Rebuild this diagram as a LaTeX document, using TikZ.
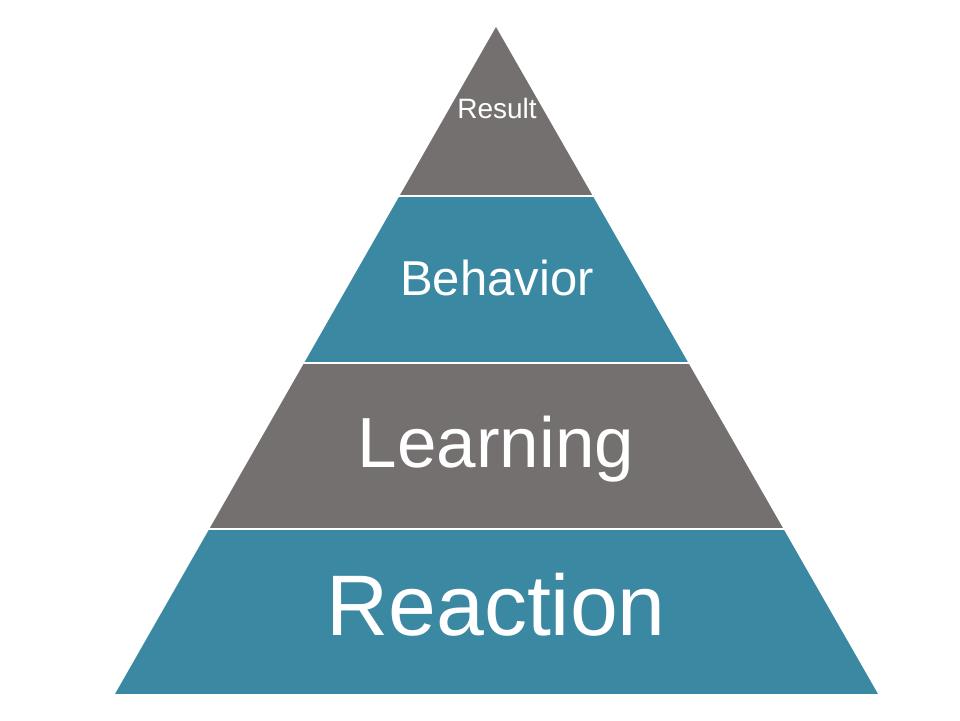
\documentclass[tikz,border=0pt]{standalone}
\usepackage{fontspec}
\setmainfont{Liberation Sans}
\definecolor{pgray}{HTML}{757070}
\definecolor{pteal}{HTML}{3B88A2}
\tikzset{
  lbl/.style={text=white, anchor=base, inner sep=0pt},
}
\begin{document}
\begin{tikzpicture}[x=1pt,y=-1pt]
\fill[white] (0,0) rectangle (960,720);
\useasboundingbox (0,0) rectangle (960,720);
\begin{scope}
\clip (496,27) -- (878,694) -- (115,694) -- cycle;
\fill[pgray] (0,0) rectangle (960,195.3);
\fill[pteal] (0,197.3) rectangle (960,361.5);
\fill[pgray] (0,363.5) rectangle (960,527.5);
\fill[pteal] (0,529.5) rectangle (960,694);
\end{scope}
\node[lbl, font=\fontsize{28}{28}\selectfont] (result) at (497,118) {Result};
\node[lbl, font=\fontsize{49}{49}\selectfont] (behavior) at (497,295) {Behavior};
\node[lbl, font=\fontsize{71}{71}\selectfont] (learning) at (496,467) {Learning};
\node[lbl, font=\fontsize{86}{86}\selectfont] (reaction) at (496,635) {Reaction};
\end{tikzpicture}
\end{document}
